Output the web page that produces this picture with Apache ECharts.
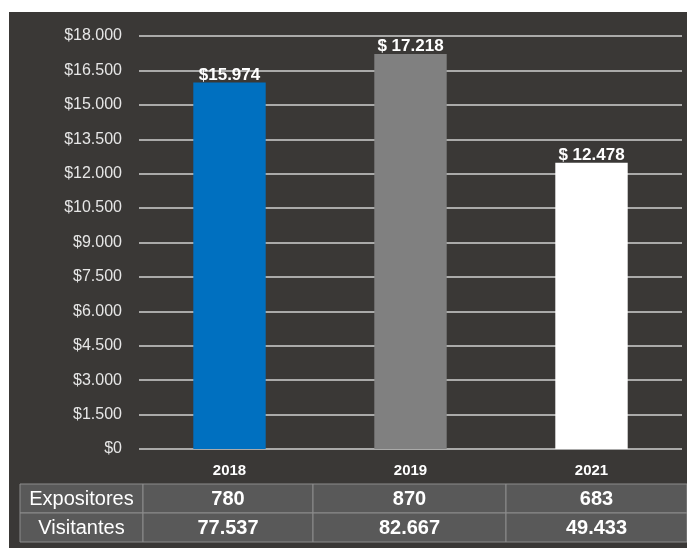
<!DOCTYPE html>
<html>
<head>
<meta charset="utf-8">
<script src="https://cdn.jsdelivr.net/npm/echarts@6/dist/echarts.min.js"></script>
<style>
    html, body { margin: 0; padding: 0; background: #ffffff; }
    #main { position: absolute; left: 9px; top: 12px; width: 678px; height: 536px; }
</style>
</head>
<body>
<div id="main"></div>
<script>
// datos del gráfico
var years = ['2018', '2019', '2021'];
var ventas = [15974, 17218, 12478];
var etiquetas = ['$15.974', '$ 17.218', '$ 12.478'];
var colores = ['#0070c0', '#808080', '#ffffff'];
var expositores = ['780', '870', '683'];
var visitantes = ['77.537', '82.667', '49.433'];
var filas = ['Expositores', 'Visitantes'];

var fuente = '"Liberation Sans", sans-serif';

function moneda(v) {
    if (v === 0) return '$0';
    return '$' + String(v).replace(/\B(?=(\d{3})+(?!\d))/g, '.');
}

// tabla debajo del eje
var colX = [11, 134, 304, 497, 678];
var rowY = [472, 501, 530];
var tabla = [];
var valores = [expositores, visitantes];
for (var r = 0; r < 2; r++) {
    for (var c = 0; c < 4; c++) {
        tabla.push({
            type: 'rect',
            shape: { x: colX[c], y: rowY[r], width: colX[c + 1] - colX[c], height: rowY[r + 1] - rowY[r] },
            style: { fill: '#595959', stroke: '#8c8c8c', lineWidth: 1 }
        });
        tabla.push({
            type: 'text',
            x: (colX[c] + colX[c + 1]) / 2,
            y: (rowY[r] + rowY[r + 1]) / 2 + 1,
            style: {
                text: c === 0 ? filas[r] : valores[r][c - 1],
                fill: '#ffffff',
                font: (c === 0 ? 'normal 20px ' : 'bold 20px ') + fuente,
                align: 'center',
                verticalAlign: 'middle'
            }
        });
    }
}

var chart = echarts.init(document.getElementById('main'));
var option = {
    backgroundColor: '#3a3836',
    animation: false,
    grid: { left: 130, right: 5, top: 24, bottom: 99 },
    xAxis: {
        type: 'category',
        data: years,
        axisLine: { show: false },
        axisTick: { show: false },
        axisLabel: { color: '#ffffff', fontWeight: 'bold', fontSize: 15, fontFamily: fuente, margin: 14 }
    },
    yAxis: {
        type: 'value',
        min: 0,
        max: 18000,
        interval: 1500,
        axisLabel: {
            color: '#e6e6e6', fontSize: 16, fontFamily: fuente, margin: 17,
            formatter: moneda
        },
        splitLine: { lineStyle: { color: '#d0d0d0', width: 1.5 } }
    },
    series: [{
        type: 'bar',
        barWidth: '40%',
        data: ventas.map(function (v, i) {
            return { value: v, itemStyle: { color: colores[i] } };
        }),
        label: {
            show: true,
            position: 'top',
            distance: -1,
            color: '#ffffff',
            fontWeight: 'bold',
            fontSize: 17,
            fontFamily: fuente,
            formatter: function (p) { return etiquetas[p.dataIndex]; }
        }
    }],
    graphic: tabla
};
chart.setOption(option);
</script>
</body>
</html>
